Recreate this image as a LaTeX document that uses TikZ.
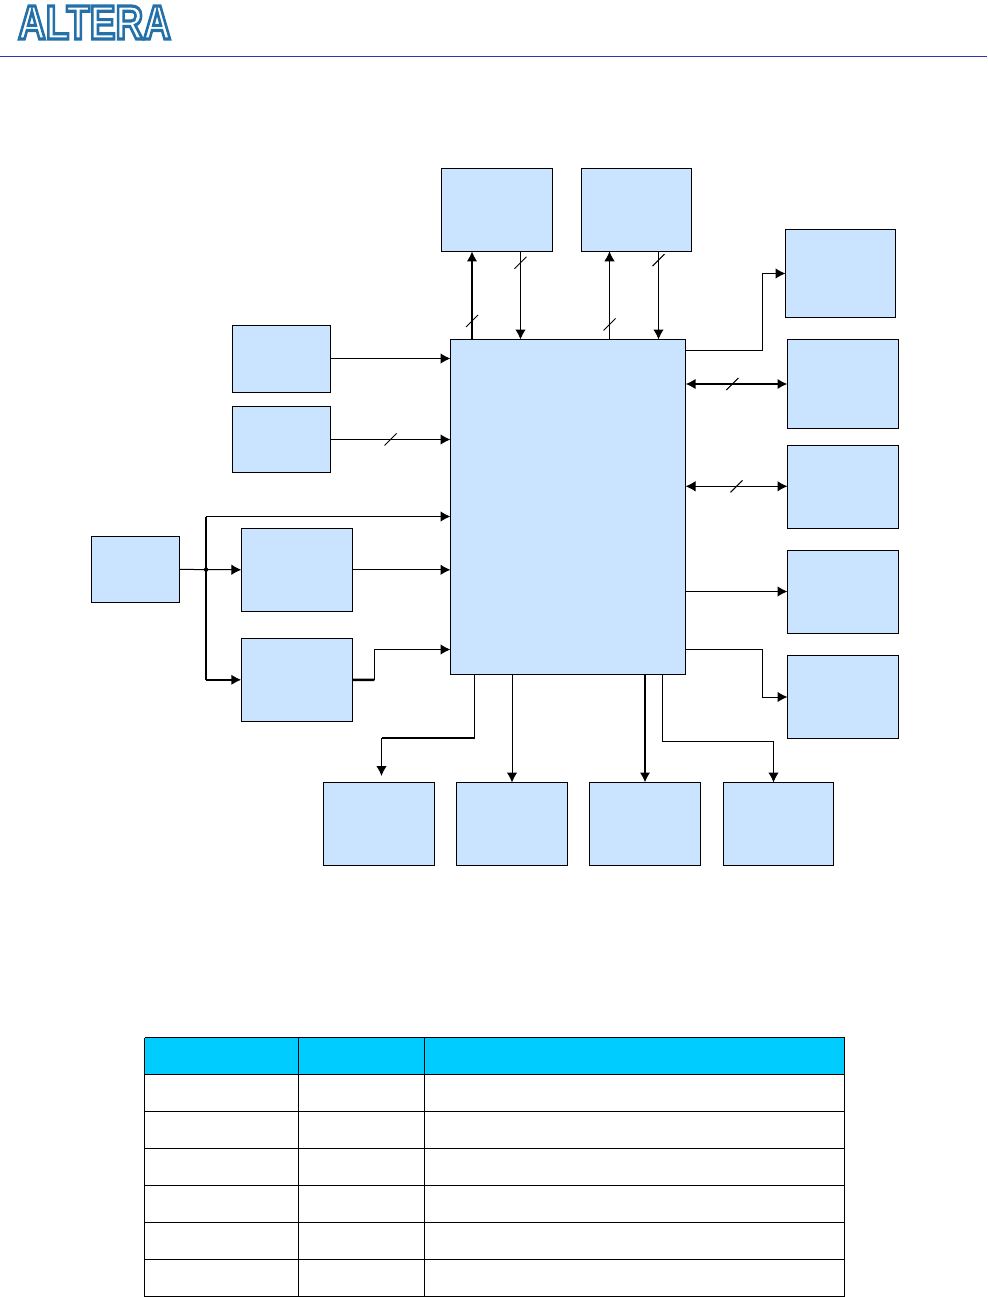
\documentclass[tikz,border=0pt]{standalone}
\usepackage{xcolor}
\usepackage{fontspec}
\setmainfont{Liberation Sans}
\usepackage{tikz}
\usetikzlibrary{arrows.meta, positioning, calc}

\definecolor{boxblue}{HTML}{CAE4FF}
\definecolor{headblue}{HTML}{00CCFF}
\definecolor{ruleblue}{HTML}{3333AA}

% outlined letters: blue stroke, white fill
\newcommand{\outlined}[1]{\special{pdf:code q 2 Tr 3.2 w 0.14 0.44 0.66 RG 1 1 1 rg}#1\special{pdf:code Q}}
% bus mark across a connector
\newcommand{\busmark}[1]{\draw [line width=1pt] (#1) ++(-6,6) -- ++(12,-12);}

\begin{document}
\begin{tikzpicture}[x=1pt, y=-1pt, line width=1pt]
    \tikzstyle{module} = [rectangle, draw, fill=boxblue, minimum width=111pt, minimum height=83pt, inner sep=0pt, outer sep=0pt]
    \tikzstyle{small} = [module, minimum width=98pt, minimum height=67pt]
    \tikzstyle{line} = [draw, -{Latex[length=10pt,width=10.5pt]}]
    \tikzstyle{biline} = [draw, {Latex[length=10pt,width=10.5pt]}-{Latex[length=10pt,width=10.5pt]}]
    \tikzstyle{bus} = [line width=2.6pt]

    \useasboundingbox (0,0) rectangle (987,1297);

    % page head
    \node [xscale=0.8, transform shape, font=\bfseries\fontsize{48}{48}\selectfont, inner sep=0pt] (logo) at (94.5,22.5) {\outlined{ALTERA}};
    \draw [ruleblue] (0,56.5) -- (987,56.5);

    % blocks
    \node [module, minimum width=235pt, minimum height=335pt] (fpga) at (568,507) {};
    \node [module] (memone) at (496.8,209.8) {};
    \node [module, minimum width=110.4pt, right of=memone, node distance=139.7pt] (memtwo) {};

    \node [module, minimum width=110pt, minimum height=88pt] (rone) at (840.5,273.5) {};
    \node [module, minimum height=89pt] (rtwo) at (843,384) {};
    \node [module, below of=rtwo, node distance=103pt] (rthree) {};
    \node [module, below of=rthree, node distance=105pt] (rfour) {};
    \node [module, below of=rfour, node distance=105pt] (rfive) {};

    \node [small] (lone) at (281.5,359) {};
    \node [small, below of=lone, node distance=80.5pt, minimum height=66pt] (ltwo) {};
    \node [small, minimum width=88pt, minimum height=66pt] (osc) at (135.4,569.4) {};
    \node [module] (pone) at (296.9,569.8) {};
    \node [module, below of=pone, node distance=110pt] (ptwo) {};

    \node [module] (bone) at (379,824) {};
    \node [module, right of=bone, node distance=133pt] (btwo) {};
    \node [module, right of=btwo, node distance=133pt] (bthree) {};
    \node [module, minimum width=110pt, right of=bthree, node distance=133.5pt] (bfour) {};

    % top links
    \path [line, bus] ([xshift=21.5pt]fpga.north west) -- coordinate [pos=0.21] (mkone) ([xshift=21.5pt]fpga.north west |- memone.south);
    \path [line] ([xshift=70pt]fpga.north west |- memone.south) -- coordinate [pos=0.13] (mktwo) ([xshift=70pt]fpga.north west);
    \path [line] ([xshift=159pt]fpga.north west) -- coordinate [pos=0.17] (mkthree) ([xshift=159pt]fpga.north west |- memtwo.south);
    \path [line] ([xshift=208pt]fpga.north west |- memtwo.south) -- coordinate [pos=0.10] (mkfour) ([xshift=208pt]fpga.north west);
    \busmark{mkone} \busmark{mktwo} \busmark{mkthree} \busmark{mkfour}

    % right links
    \coordinate (rjog) at (762.4,507);
    \path [line] ([yshift=-11pt]fpga.north east) -| (rjog |- rone.west) -- (rone.west);
    \path [biline, line width=2pt] (fpga.east |- rtwo.west) -- coordinate [pos=0.46] (mkfive) (rtwo.west);
    \path [biline] (fpga.east |- 0,486.3) -- coordinate [pos=0.5] (mksix) (rthree.west |- 0,486.3);
    \busmark{mkfive} \busmark{mksix}
    \path [line] (fpga.east |- 0,591.5) -- (rfour.west |- 0,591.5);
    \path [line] ([yshift=-310pt]fpga.north east) -| (rjog |- rfive.west) -- (rfive.west);

    % left links
    \path [line] (lone.east |- 0,358.5) -- (fpga.west |- 0,358.5);
    \path [line] (ltwo.east) -- coordinate [pos=0.5] (mkseven) (fpga.west |- ltwo.east);
    \busmark{mkseven}
    \coordinate (trunk) at ($(osc.east)!0.43!(pone.west)$);
    \path [line] (osc.east) -- (pone.west);
    \path [line] (pone.east) -- (fpga.west |- pone.east);
    \draw [bus, line cap=square] (trunk |- 0,517) -- (trunk |- ptwo.west);
    \path [line] (trunk |- 0,516.5) -- (fpga.west |- 0,516.5);
    \path [line, bus] (trunk |- ptwo.west) -- (ptwo.west);
    \fill (trunk) circle (2.2pt);
    \coordinate (pjog) at ($(ptwo.east)!0.225!(fpga.west |- ptwo.east)$);
    \draw [bus] (ptwo.east) -- (pjog);
    \path [line] (pjog) |- (fpga.west |- 0,649.5);

    % bottom links
    \coordinate (bonetop) at (381.5,738);
    \coordinate (boneend) at (381.5,776);
    \draw ([xshift=24pt]fpga.south west) -- ([xshift=24pt]fpga.south west |- bonetop);
    \draw [line width=2pt] ([xshift=24pt]fpga.south west |- bonetop) -- (bonetop);
    \path [line] (bonetop) -- (boneend);
    \path [line] (btwo.north |- fpga.south) -- (btwo.north);
    \path [line, bus] (bthree.north |- fpga.south) -- (bthree.north);
    \coordinate (bfourtop) at (773.5,741.5);
    \path [line] ([xshift=212pt]fpga.south west) |- (bfourtop) -- (bfourtop |- bfour.north);

    % table
    \fill [headblue] (144.5,1037.5) rectangle (844.5,1074.5);
    \foreach \yrow in {1037.5,1074.5,1111.5,1148.5,1185.5,1222.5,1259.5,1296.5}
        \draw (144.5,\yrow) -- (844.5,\yrow);
    \foreach \xcol in {144.5,298.5,424.5,844.5}
        \draw (\xcol,1037.5) -- (\xcol,1296.5);
\end{tikzpicture}
\end{document}
